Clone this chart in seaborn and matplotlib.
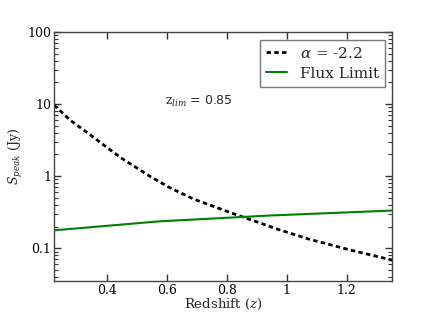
import numpy as np
import pandas as pd
import matplotlib
matplotlib.use("Agg")
import matplotlib.pyplot as plt
import seaborn as sns
from matplotlib.ticker import FixedLocator, FixedFormatter, LogLocator, NullFormatter

# Data
z_alpha = [0.223, 0.276, 0.333, 0.445, 0.542, 0.607, 0.687, 0.831, 0.943, 0.97, 1.076, 1.21, 1.339, 1.353]
s_alpha = [9.7, 6.0, 4.03, 1.81, 1.00, 0.70, 0.484, 0.292, 0.201, 0.183, 0.133, 0.095, 0.0705, 0.068]
z_flux = [0.223, 0.576, 0.943, 1.353]
s_flux = [0.177, 0.236, 0.284, 0.333]

x_ticks = [0.4, 0.6, 0.8, 1.0, 1.2]
x_ticklabels = ["0.4", "0.6", "0.8", "1", "1.2"]
y_ticks = [0.1, 1, 10, 100]
y_ticklabels = ["0.1", "1", "10", "100"]

label_alpha = r"$\alpha$ = -2.2"
label_flux = "Flux Limit"
annot = r"$\mathrm{z}_{lim}$ = 0.85"

sns.set_style("ticks")
plt.rcParams["font.family"] = ["DejaVu Serif"]
plt.rcParams["mathtext.fontset"] = "dejavuserif"

df_a = pd.DataFrame({"z": z_alpha, "S": s_alpha})
df_f = pd.DataFrame({"z": z_flux, "S": s_flux})

fig = plt.figure(figsize=(4.36, 3.13), dpi=100)
ax = fig.add_axes([0.124, 0.102, 0.776, 0.796])

sns.lineplot(data=df_a, x="z", y="S", ax=ax, color="black", lw=2,
             linestyle=(0, (1.6, 1.2)), label=label_alpha)
sns.lineplot(data=df_f, x="z", y="S", ax=ax, color="#008000", lw=1.5,
             label=label_flux)

ax.set_yscale("log")
ax.set_xlim(0.223, 1.353)
ax.set_ylim(0.035, 100)

ax.xaxis.set_major_locator(FixedLocator(x_ticks))
ax.xaxis.set_major_formatter(FixedFormatter(x_ticklabels))
ax.yaxis.set_major_locator(FixedLocator(y_ticks))
ax.yaxis.set_major_formatter(FixedFormatter(y_ticklabels))
ax.yaxis.set_minor_locator(LogLocator(base=10, subs=np.arange(2, 10)))
ax.yaxis.set_minor_formatter(NullFormatter())

ax.tick_params(which="both", direction="in", top=True, right=True,
               colors="#333333", labelcolor="black", labelsize=9, pad=2)
ax.tick_params(which="major", length=5, width=1)
ax.tick_params(which="minor", length=3, width=0.8)
for s in ax.spines.values():
    s.set_color("#444444")
    s.set_linewidth(1)

ax.set_xlabel("Redshift ($z$)", fontsize=9.5, labelpad=0)
ax.set_ylabel("$S_{peak}$ (Jy)", fontsize=9, labelpad=2)

ax.text(0.328, 0.707, annot, transform=ax.transAxes, fontsize=9,
        family=["DejaVu Sans"], va="baseline")

leg = ax.legend(loc="upper right", fontsize=11, frameon=True, fancybox=False,
                handlelength=1.4, borderaxespad=0.5, labelspacing=0.4)
leg.get_frame().set_edgecolor("#555555")
leg.get_frame().set_linewidth(1)

fig.savefig("out.png", dpi=100)
